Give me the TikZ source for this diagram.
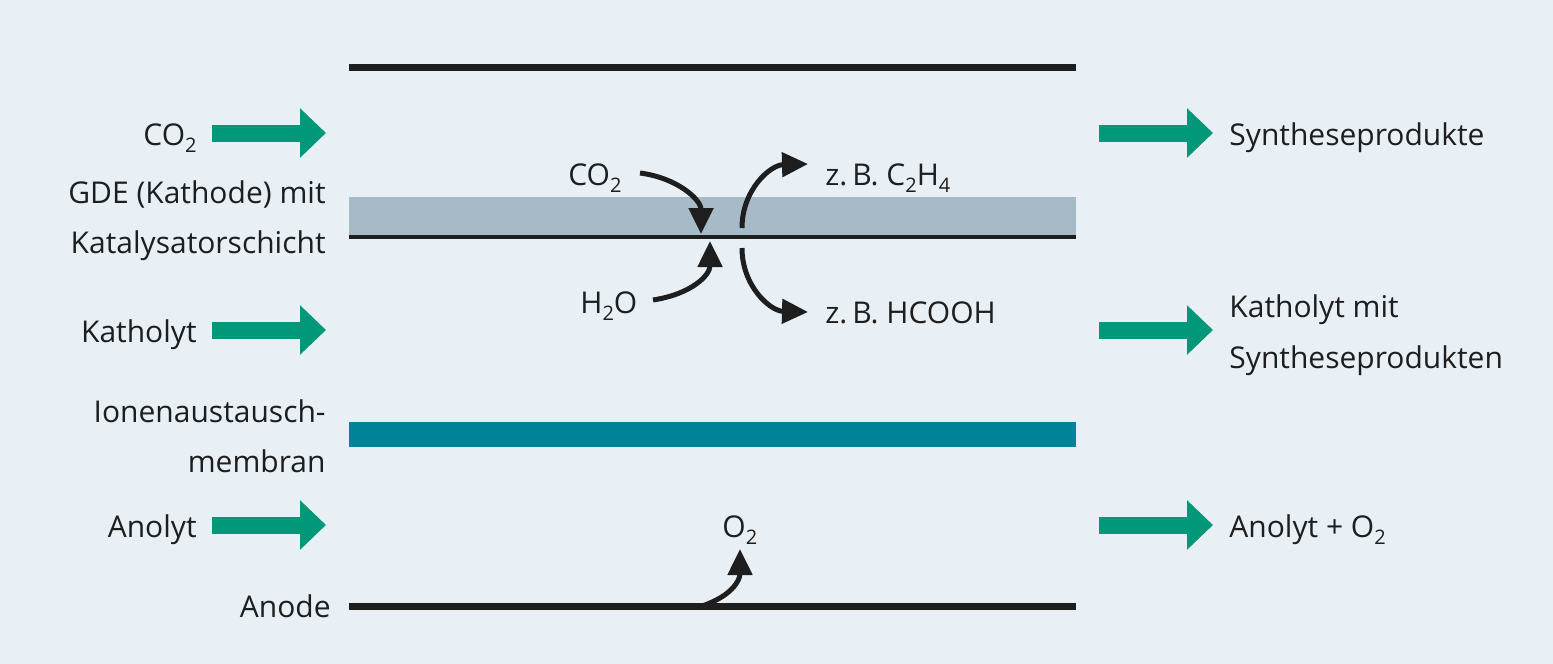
\documentclass[tikz,border=0pt]{standalone}
\usepackage{fontspec}
\setmainfont{Open Sans}
\usetikzlibrary{arrows.meta}
\definecolor{bgc}{RGB}{232,240,246}
\definecolor{gdec}{RGB}{166,186,199}
\definecolor{memc}{RGB}{0,130,152}
\definecolor{grc}{RGB}{0,152,120}
\definecolor{blk}{RGB}{30,30,30}
\newcommand\sbs[1]{\raisebox{-3.5pt}{\fontsize{10}{12}\selectfont #1}}
\begin{document}
\begin{tikzpicture}[x=0.5pt,y=-0.5pt,
  lbl/.style={inner sep=0pt, font=\fontsize{15}{18}\selectfont, text=blk},
  flow/.style={draw=grc, line width=8.5pt, -{Triangle[length=13pt,width=24pt]}},
  react/.style={draw=blk, line width=2.5pt, -{Triangle[length=13pt,width=12pt]}},
  layer/.style={draw=blk, line width=3.5pt}]
\fill[bgc] (0,0) rectangle (1553,664);
\useasboundingbox (0,0) rectangle (1553,664);
% layers
\fill[gdec] (349,197) rectangle (1076,236);
\draw[draw=blk, line width=2pt] (349,237) -- (1076,237);
\draw[layer] (349,67) -- (1076,67);
\fill[memc] (349,422) rectangle (1076,447);
\draw[layer] (349,606) -- (1076,606);
% flow arrows
\coordinate (l1a) at (212,133); \coordinate (l1b) at (326,133);
\coordinate (l2a) at (212,330); \coordinate (l2b) at (326,330);
\coordinate (l3a) at (212,525); \coordinate (l3b) at (326,525);
\coordinate (r1a) at (1099,133); \coordinate (r1b) at (1213,133);
\coordinate (r2a) at (1099,330); \coordinate (r2b) at (1213,330);
\coordinate (r3a) at (1099,525); \coordinate (r3b) at (1213,525);
\draw[flow] (l1a) -- (l1b);
\draw[flow] (l2a) -- (l2b);
\draw[flow] (l3a) -- (l3b);
\draw[flow] (r1a) -- (r1b);
\draw[flow] (r2a) -- (r2b);
\draw[flow] (r3a) -- (r3b);
% left labels
\node[lbl, anchor=base east] (co2in) at (197,145) {CO\sbs{2}};
\node[lbl, anchor=base east] (gde1) at (326,203) {GDE (Kathode) mit};
\node[lbl, anchor=base east] (gde2) at (326,253) {Katalysatorschicht};
\node[lbl, anchor=base east] (kath) at (197,342) {Katholyt};
\node[lbl, anchor=base east] (mem1) at (326,422) {Ionenaustausch-};
\node[lbl, anchor=base east] (mem2) at (326,472) {membran};
\node[lbl, anchor=base east] (anol) at (197,537) {Anolyt};
\node[lbl, anchor=base east] (anode) at (331,617) {Anode};
% right labels
\node[lbl, anchor=base west] (synth) at (1229,145) {Syntheseprodukte};
\node[lbl, anchor=base west] (kout1) at (1229,317) {Katholyt mit};
\node[lbl, anchor=base west] (kout2) at (1229,368) {Syntheseprodukten};
\node[lbl, anchor=base west] (aout) at (1229,537) {Anolyt + O\sbs{2}};
% center labels
\node[lbl, anchor=base west] (co2c) at (568,185) {CO\sbs{2}};
\node[lbl, anchor=base west] (h2o) at (580,313) {H\sbs{2}O};
\node[lbl, anchor=base west] (eth) at (825,185) {z.\,B. C\sbs{2}H\sbs{4}};
\node[lbl, anchor=base west] (fa) at (825,323) {z.\,B. HCOOH};
\node[lbl, anchor=base west] (o2) at (722,537) {O\sbs{2}};
% reaction arrows
\coordinate (c1) at (640,173); \coordinate (c1e) at (701,234);
\coordinate (h1) at (653,300); \coordinate (h1e) at (710,241);
\coordinate (e1) at (742,228); \coordinate (e1e) at (808,164);
\coordinate (f1) at (742,248); \coordinate (f1e) at (808,312);
\coordinate (o1) at (702,606); \coordinate (o1e) at (740,549);
\draw[react] (c1) .. controls (678,178) and (701,200) .. (c1e);
\draw[react] (h1) .. controls (692,294) and (710,275) .. (h1e);
\draw[react] (e1) .. controls (742,190) and (770,165) .. (e1e);
\draw[react] (f1) .. controls (742,286) and (770,311) .. (f1e);
\draw[react] (o1) .. controls (732,596) and (740,580) .. (o1e);
\end{tikzpicture}
\end{document}
